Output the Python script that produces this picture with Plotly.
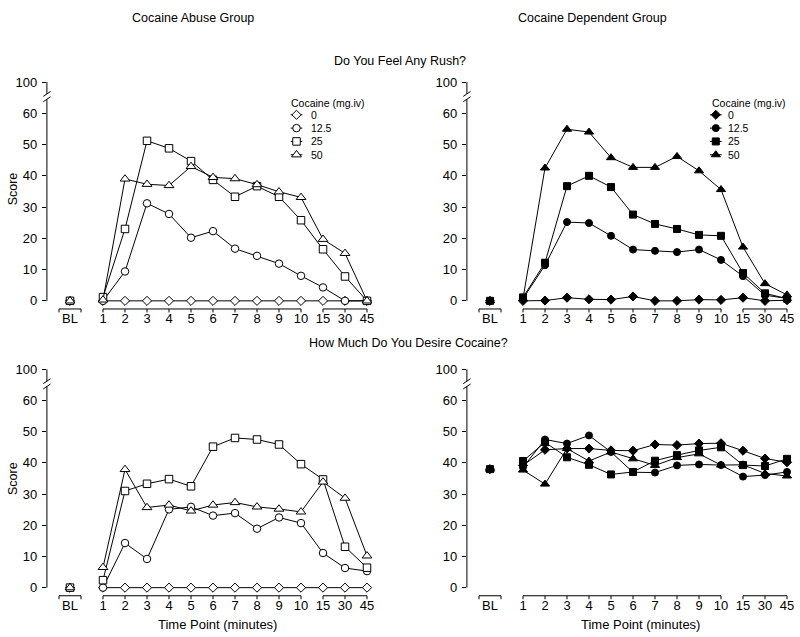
import plotly.graph_objects as go

# ---------------- data ----------------
time_labels = ["1", "2", "3", "4", "5", "6", "7", "8", "9", "10", "15", "30", "45"]
bl_label = "BL"
doses = ["0", "12.5", "25", "50"]

# Cocaine Abuse Group - Do You Feel Any Rush?
abuse_rush_0 = [0, 0, 0, 0, 0, 0, 0, 0, 0, 0, 0, 0, 0]
abuse_rush_12_5 = [0, 9.4, 31.2, 27.8, 20.2, 22.3, 16.7, 14.4, 11.9, 8.0, 4.3, 0, 0]
abuse_rush_25 = [1.2, 23.0, 51.2, 48.8, 44.7, 38.7, 33.3, 36.7, 33.3, 25.8, 16.5, 7.8, 0]
abuse_rush_50 = [0.3, 39.0, 37.3, 36.9, 43.0, 39.5, 39.1, 37.2, 34.9, 33.1, 19.7, 15.2, 0]
abuse_rush_bl = [0, 0, 0, 0]

# Cocaine Dependent Group - Do You Feel Any Rush?
dep_rush_0 = [0, 0.1, 1.0, 0.5, 0.4, 1.4, 0, 0, 0.4, 0.3, 1.0, 0, 0.2]
dep_rush_12_5 = [0.7, 11.4, 25.2, 24.9, 20.8, 16.4, 16.0, 15.6, 16.4, 13.1, 7.9, 1.8, 0.8]
dep_rush_25 = [1.1, 12.2, 36.7, 40.0, 36.4, 27.6, 24.6, 23.0, 21.1, 20.8, 8.9, 2.4, 0.7]
dep_rush_50 = [0.7, 42.5, 54.9, 54.0, 45.8, 42.7, 42.7, 46.2, 41.6, 35.6, 17.2, 5.5, 1.9]
dep_rush_bl = [0, 0, 0, 0]

# Cocaine Abuse Group - How Much Do You Desire Cocaine?
abuse_desire_0 = [0, 0, 0, 0, 0, 0, 0, 0, 0, 0, 0, 0, 0]
abuse_desire_12_5 = [0, 14.3, 9.2, 25.1, 25.9, 23.1, 23.9, 18.9, 22.5, 20.7, 11.1, 6.3, 5.3]
abuse_desire_25 = [2.4, 31.0, 33.3, 34.8, 32.5, 45.2, 48.0, 47.5, 45.9, 39.6, 34.7, 13.1, 6.4]
abuse_desire_50 = [6.5, 37.9, 25.7, 26.5, 24.6, 26.5, 27.3, 25.9, 25.2, 24.3, 33.9, 28.7, 10.2]
abuse_desire_bl = [0, 0, 0, 0]

# Cocaine Dependent Group - How Much Do You Desire Cocaine?
dep_desire_0 = [39.2, 44.2, 44.6, 44.6, 44.0, 43.9, 45.9, 45.7, 46.2, 46.3, 43.9, 41.4, 40.2]
dep_desire_12_5 = [38.6, 47.5, 46.2, 48.8, 43.5, 37.0, 36.9, 39.2, 39.5, 39.3, 35.6, 36.1, 37.1]
dep_desire_25 = [40.6, 46.6, 41.8, 39.4, 36.3, 37.1, 40.7, 42.5, 44.0, 45.0, 39.3, 39.0, 41.3]
dep_desire_50 = [37.7, 33.2, 44.6, 40.6, 43.5, 41.3, 39.2, 41.7, 42.9, 39.3, 39.4, 36.6, 35.8]
dep_desire_bl = [38, 38, 38, 38]

y_tick_vals = [0, 10, 20, 30, 40, 50, 60, 70]
y_tick_text = ["0", "10", "20", "30", "40", "50", "60", "100"]

# ---------------- layout helpers ----------------
W, H = 800, 637
FONT = "Liberation Sans, Arial, Helvetica, sans-serif"
TICK_SIZE = 13
positions = list(range(1, len(time_labels) + 1))
bl_pos = -0.5
x_range = [-1.55, 13.5]
y_range = [-2.6, 71]
brk_lo, brk_hi = 64.5, 66.2

panels = [
    dict(xa="x", ya="y", series=[abuse_rush_0, abuse_rush_12_5, abuse_rush_25, abuse_rush_50],
         bl=abuse_rush_bl, filled=False, xdom=[46.9 / W, 378 / W], ydom=[1 - 306.9 / H, 1 - 75.4 / H]),
    dict(xa="x2", ya="y2", series=[dep_rush_0, dep_rush_12_5, dep_rush_25, dep_rush_50],
         bl=dep_rush_bl, filled=True, xdom=[466.9 / W, 798 / W], ydom=[1 - 306.9 / H, 1 - 75.4 / H]),
    dict(xa="x3", ya="y3", series=[abuse_desire_0, abuse_desire_12_5, abuse_desire_25, abuse_desire_50],
         bl=abuse_desire_bl, filled=False, xdom=[46.9 / W, 378 / W], ydom=[1 - 595.5 / H, 1 - 364.5 / H]),
    dict(xa="x4", ya="y4", series=[dep_desire_0, dep_desire_12_5, dep_desire_25, dep_desire_50],
         bl=dep_desire_bl, filled=True, xdom=[466.9 / W, 798 / W], ydom=[1 - 595.5 / H, 1 - 364.5 / H]),
]

symbols = ["diamond", "circle", "square", "triangle-up"]
sizes_open = [7, 7.5, 7.5, 8.5]
sizes_filled = [7, 7, 7, 8]

fig = go.Figure()
shapes = []
layout_axes = {}

for p in panels:
    sizes = sizes_filled if p["filled"] else sizes_open
    fill = "black" if p["filled"] else "white"
    for i, ser in enumerate(p["series"]):
        fig.add_trace(go.Scatter(
            x=positions, y=ser, mode="lines+markers",
            line=dict(color="black", width=1),
            marker=dict(symbol=symbols[i], size=sizes[i], color=fill,
                        line=dict(color="black", width=1)),
            xaxis=p["xa"], yaxis=p["ya"], cliponaxis=False, showlegend=False,
            name=doses[i]))
    for i in range(len(doses)):
        fig.add_trace(go.Scatter(
            x=[bl_pos], y=[p["bl"][i]], mode="markers",
            marker=dict(symbol=symbols[i], size=sizes[i], color=fill,
                        line=dict(color="black", width=1)),
            xaxis=p["xa"], yaxis=p["ya"], cliponaxis=False, showlegend=False,
            name=doses[i]))

    xk = "xaxis" + p["xa"][1:]
    yk = "yaxis" + p["ya"][1:]
    layout_axes[xk] = dict(
        domain=p["xdom"], anchor=p["ya"], range=x_range,
        tickmode="array", tickvals=[bl_pos] + positions, ticktext=[bl_label] + time_labels,
        ticks="",
        showgrid=False, zeroline=False, showline=False,
        tickfont=dict(size=TICK_SIZE, color="black", family=FONT))
    layout_axes[yk] = dict(
        domain=p["ydom"], anchor=p["xa"], range=y_range,
        tickmode="array", tickvals=y_tick_vals, ticktext=y_tick_text,
        ticks="outside", ticklen=4, tickcolor="black", tickwidth=1,
        ticklabelstandoff=2,
        showgrid=False, zeroline=False, showline=False,
        tickfont=dict(size=TICK_SIZE, color="black", family=FONT))

    xd = p["xa"] + " domain"
    yd = p["ya"] + " domain"
    ln = dict(color="black", width=1)
    # broken y axis line
    shapes.append(dict(type="line", xref=xd, yref=p["ya"], x0=0, x1=0, y0=0, y1=brk_lo, line=ln))
    shapes.append(dict(type="line", xref=xd, yref=p["ya"], x0=0, x1=0, y0=brk_hi, y1=70, line=ln))
    for c in (brk_lo, brk_hi):
        shapes.append(dict(type="line", xref=xd, yref=p["ya"], x0=-0.011, x1=0.011,
                           y0=c - 0.8, y1=c + 0.8, line=ln))
    # x-axis brackets
    for a, b in ((bl_pos - 0.5, bl_pos + 0.5), (positions[0], positions[9]), (positions[10], positions[-1])):
        shapes.append(dict(type="line", xref=p["xa"], yref=yd, x0=a, x1=b, y0=0, y1=0, line=ln))
    dom_h = (p["ydom"][1] - p["ydom"][0]) * H
    for t in [bl_pos - 0.5, bl_pos + 0.5] + positions:
        shapes.append(dict(type="line", xref=p["xa"], yref=yd, x0=t, x1=t, y0=0, y1=-3.5 / dom_h, line=ln))

# ---------------- legends (pixel-unit overlay axes) ----------------
layout_axes["xaxis5"] = dict(domain=[0, 1], range=[0, W], visible=False, anchor="y5", fixedrange=True)
layout_axes["yaxis5"] = dict(domain=[0, 1], range=[H, 0], visible=False, anchor="x5", fixedrange=True)

annotations = []
legend_specs = [
    dict(filled=False, title_x=288.7, line_x=(290.7, 302.3), mark_x=296.5, text_x=308.7),
    dict(filled=True, title_x=709.7, line_x=(710, 721.7), mark_x=715.8, text_x=726.3),
]
row0, row_step, title_y = 111.5, 13.4, 100
for lg in legend_specs:
    sizes = sizes_filled if lg["filled"] else sizes_open
    fill = "black" if lg["filled"] else "white"
    annotations.append(dict(xref="x5", yref="y5", x=lg["title_x"], y=title_y, text="Cocaine (mg.iv)",
                            showarrow=False, xanchor="left", yanchor="middle",
                            font=dict(size=10.5, family=FONT, color="black")))
    for i, d in enumerate(doses):
        ry = row0 + i * row_step
        fig.add_trace(go.Scatter(x=list(lg["line_x"]), y=[ry, ry], mode="lines",
                                 line=dict(color="black", width=1), xaxis="x5", yaxis="y5",
                                 showlegend=False, hoverinfo="skip"))
        fig.add_trace(go.Scatter(x=[lg["mark_x"]], y=[ry], mode="markers",
                                 marker=dict(symbol=symbols[i], size=sizes[i], color=fill,
                                             line=dict(color="black", width=1)),
                                 xaxis="x5", yaxis="y5", showlegend=False, hoverinfo="skip"))
        annotations.append(dict(xref="x5", yref="y5", x=lg["text_x"], y=ry, text=d,
                                showarrow=False, xanchor="left", yanchor="middle",
                                font=dict(size=10.5, family=FONT, color="black")))

# ---------------- titles ----------------
def txt(x, y, s, size=12.5, angle=0):
    annotations.append(dict(xref="paper", yref="paper", x=x / W, y=1 - y / H, text=s,
                            showarrow=False, xanchor="center", yanchor="middle", textangle=angle,
                            font=dict(size=size, family=FONT, color="black")))

txt(193, 14, "Cocaine Abuse Group")
txt(592.5, 14, "Cocaine Dependent Group")
txt(400, 57, "Do You Feel Any Rush?")
txt(408, 341.5, "How Much Do You Desire Cocaine?")
txt(13, 186.5, "Score", angle=-90)
txt(13, 478, "Score", angle=-90)
txt(217, 624, "Time Point (minutes)", size=13)
txt(640, 624, "Time Point (minutes)", size=13)

fig.update_layout(
    width=W, height=H, margin=dict(l=0, r=0, t=0, b=0),
    paper_bgcolor="white", plot_bgcolor="rgba(0,0,0,0)",
    font=dict(family=FONT, color="black"),
    showlegend=False, shapes=shapes, annotations=annotations,
    **layout_axes)

fig.write_html("out.html", config={"displayModeBar": False},
               post_script="document.body.style.margin='0px';document.body.style.overflow='hidden';")
